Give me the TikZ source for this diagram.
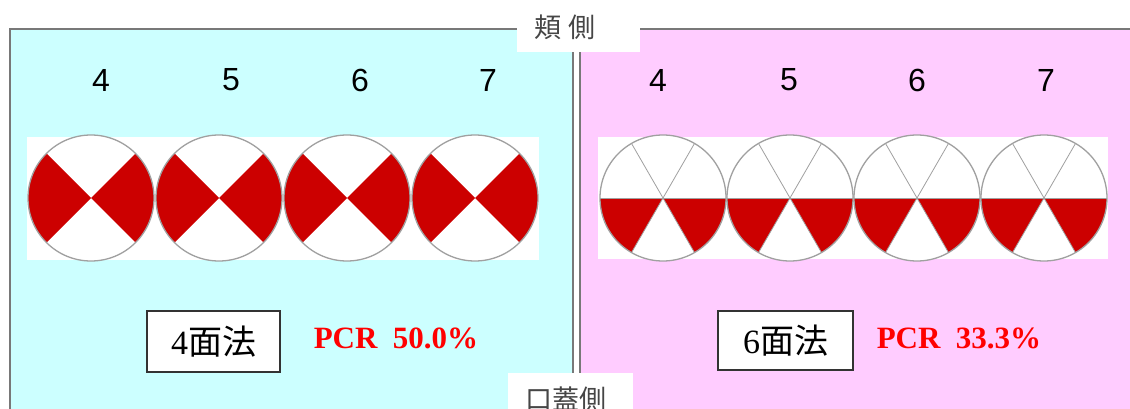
\documentclass[tikz,border=0pt]{standalone}
\usepackage{fontspec}
\setmainfont{Liberation Serif}
\newfontfamily\cjk{Noto Sans CJK JP}
\newfontfamily\arial{Liberation Sans}
\definecolor{cyanbg}{RGB}{204,255,255}
\definecolor{pinkbg}{RGB}{255,204,255}
\definecolor{sectred}{RGB}{204,0,0}
\definecolor{pcrred}{RGB}{255,0,0}
\definecolor{bordergray}{RGB}{120,120,120}
\definecolor{circgray}{RGB}{160,160,160}
\definecolor{titlegray}{RGB}{70,70,70}
\tikzset{
  panel/.style={draw=bordergray, line width=2pt},
  strip/.style={fill=white},
  circ/.style={draw=circgray, line width=1.3pt},
  radius line/.style={draw=circgray, line width=0.8pt},
  tooth/.style={font=\arial\fontsize{32}{32}\selectfont, text=black},
  methodbox/.style={draw=black!80, line width=1.2pt, fill=white, inner sep=0pt, font=\fontsize{34}{34}\selectfont},
  pcr/.style={text=pcrred, font=\bfseries\fontsize{31}{31}\selectfont},
  sidelabel/.style={text=titlegray, font=\cjk\fontsize{27}{27}\selectfont}
}
\begin{document}
\begin{tikzpicture}[x=1pt,y=-1pt]
\useasboundingbox (0,0) rectangle (1130,409);
\clip (0,0) rectangle (1130,409);
\fill[white] (0,0) rectangle (1130,409);
% panels
\filldraw[panel, fill=cyanbg] (10,29) rectangle (573,430);
\filldraw[panel, fill=pinkbg] (580,29) rectangle (1150,430);
% label boxes
\fill[white] (517,-2) rectangle (640,52);
\fill[white] (508,373) rectangle (633,420);
\node[sidelabel] (buccal) at (565,27) {頬 側};
\node[sidelabel, anchor=west] (palatal) at (522,399) {口蓋側};
% strips
\fill[strip] (27,137) rectangle (539,260);
\fill[strip] (598,137) rectangle (1108,259);
% left circles (4 sites)
\foreach \cx in {91,219,347,475}{
  \fill[white] (\cx,198) circle[radius=63];
  \fill[sectred] (\cx,198) -- ++(135:63) arc[start angle=135,end angle=225,radius=63] -- cycle;
  \fill[sectred] (\cx,198) -- ++(-45:63) arc[start angle=-45,end angle=45,radius=63] -- cycle;
  \draw[circ] (\cx,198) circle[radius=63];
}
% right circles (6 sites)
\foreach \cx in {663,790,917,1044}{
  \fill[white] (\cx,198) circle[radius=63];
  \fill[sectred] (\cx,198) -- ++(180:63) arc[start angle=180,end angle=120,radius=63] -- cycle;
  \fill[sectred] (\cx,198) -- ++(0:63) arc[start angle=0,end angle=60,radius=63] -- cycle;
  \foreach \a in {0,60,120,180,240,300}{
    \draw[radius line] (\cx,198) -- ++(\a:63);
  }
  \draw[circ] (\cx,198) circle[radius=63];
}
% tooth numbers
\node[tooth] (l4) at (101,80) {4};
\node[tooth] (l5) at (231,80) {5};
\node[tooth] (l6) at (360,80) {6};
\node[tooth] (l7) at (488,80) {7};
\node[tooth] (r4) at (658,80) {4};
\node[tooth] (r5) at (789,80) {5};
\node[tooth] (r6) at (917,80) {6};
\node[tooth] (r7) at (1046,80) {7};
% method boxes
\node[methodbox, minimum width=133pt, minimum height=61pt] (m4) at (213.5,341.5) {4{\cjk 面法}};
\node[methodbox, minimum width=135pt, minimum height=59pt] (m6) at (785.5,340.5) {6{\cjk 面法}};
\node[pcr] (p4) at (396,338) {PCR\ \ 50.0\%};
\node[pcr] (p6) at (959,338) {PCR\ \ 33.3\%};
\end{tikzpicture}
\end{document}
